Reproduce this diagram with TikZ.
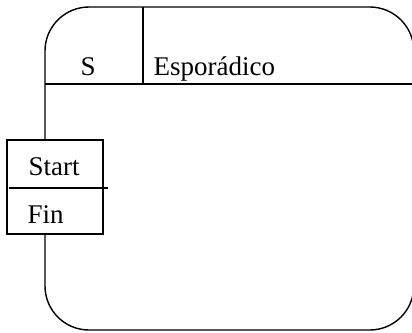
\documentclass[tikz,border=0pt]{standalone}
\usepackage{fontspec}
\setmainfont{Liberation Serif}
\begin{document}
\begin{tikzpicture}[x=1pt,y=-1pt,line width=1.4pt,
  lbl/.style={inner sep=0pt,anchor=base west,font=\fontsize{27}{32}\selectfont}]
\useasboundingbox (0,0) rectangle (412,332);
\clip (0,0) rectangle (412,332);
% outer rounded frame with its header row
\draw[rounded corners=44pt] (45,7) rectangle (413.8,330);
\coordinate (hl) at (45,84);
\coordinate (hr) at (413.8,84);
\coordinate (vt) at (143,7);
\coordinate (vb) at (143,84);
\draw (hl) -- (hr);
\draw (vt) -- (vb);
\node[lbl] (s) at (80,75) {S};
\node[lbl] (esp) at (153,75) {Esporádico};
% small two-cell box on the left edge
\node[draw,fill=white,inner sep=0pt,minimum width=96pt,minimum height=94pt] (box) at (55,187) {};
\coordinate (dl) at (9,188);
\coordinate (dr) at (108,188);
\draw (dl) -- (dr);
\node[lbl] (start) at (28,175) {Start};
\node[lbl] (fin) at (27,223) {Fin};
\end{tikzpicture}
\end{document}
